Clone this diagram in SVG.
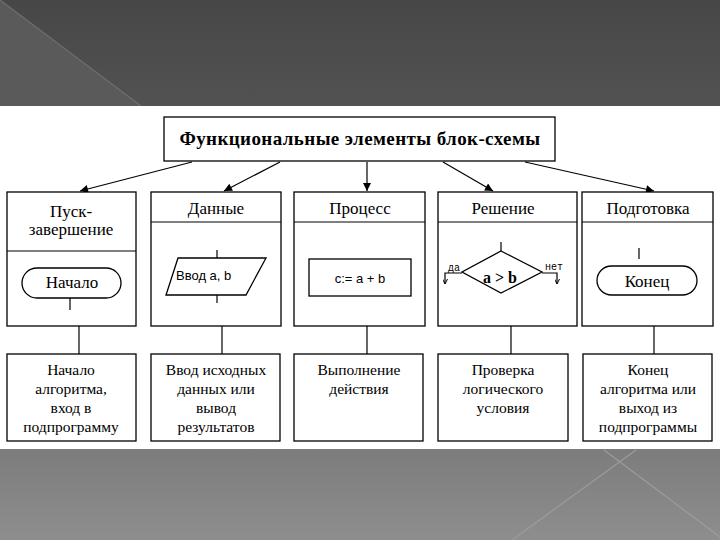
<svg xmlns="http://www.w3.org/2000/svg" width="720" height="540" viewBox="0 0 720 540">
<defs>
<linearGradient id="bot" x1="0" y1="0" x2="0" y2="1">
<stop offset="0" stop-color="#7c7c7c"/>
<stop offset="1" stop-color="#8e8e8e"/>
</linearGradient>
<linearGradient id="top" x1="0" y1="0" x2="0" y2="1">
<stop offset="0" stop-color="#474747"/>
<stop offset="1" stop-color="#525252"/>
</linearGradient>
<marker id="ah" viewBox="0 0 10 10" refX="10" refY="5" markerWidth="10" markerHeight="8" markerUnits="userSpaceOnUse" orient="auto">
<path d="M0,0 L10,5 L0,10 Z" fill="#000"/>
</marker>
<marker id="sa" viewBox="0 0 10 10" refX="10" refY="5" markerWidth="6" markerHeight="5" markerUnits="userSpaceOnUse" orient="auto">
<path d="M0,0 L10,5 L0,10" fill="none" stroke="#000" stroke-width="2"/>
</marker>
</defs>
<style>
.box{fill:#fff;stroke:#000;stroke-width:1.3}
.ln{fill:none;stroke:#000;stroke-width:1.2}
.hd{font-family:"Liberation Serif","Times New Roman",serif;font-size:17px;fill:#000;text-anchor:middle}
.bd{font-family:"Liberation Serif","Times New Roman",serif;font-size:15.5px;fill:#000;text-anchor:middle}
.sn{font-family:"Liberation Sans",Arial,sans-serif;font-size:13px;fill:#000}
.mn{font-family:"Liberation Mono","Courier New",monospace;font-size:10px;fill:#000}
</style>
<rect x="0" y="0" width="720" height="106" fill="url(#top)"/>
<polygon points="0,0 141,106 0,106" fill="#5a5a5a"/>
<line x1="0" y1="0" x2="141" y2="106" stroke="#6e6e6e" stroke-width="1.2"/>
<rect x="0" y="106" width="720" height="343" fill="#fff"/>
<rect x="0" y="449" width="720" height="91" fill="url(#bot)"/>
<line x1="604" y1="450" x2="720" y2="537" stroke="#9c9c9c" stroke-width="1.2"/>
<line x1="636" y1="450" x2="512" y2="540" stroke="#9c9c9c" stroke-width="1.2"/>

<g id="title">
<rect class="box" x="164" y="117" width="391" height="44"/>
<text x="360" y="145" class="hd" style="font-weight:bold;font-size:19px;letter-spacing:0.4px">Функциональные элементы блок-схемы</text>
</g>

<g id="connectors">
<line class="ln" x1="192" y1="162" x2="80" y2="191" marker-end="url(#ah)"/>
<line class="ln" x1="280" y1="162" x2="224" y2="191" marker-end="url(#ah)"/>
<line class="ln" x1="367" y1="162" x2="367" y2="191" marker-end="url(#ah)"/>
<line class="ln" x1="443" y1="162" x2="493" y2="191" marker-end="url(#ah)"/>
<line class="ln" x1="525" y1="162" x2="654" y2="191" marker-end="url(#ah)"/>
<line class="ln" x1="79" y1="326" x2="79" y2="354"/>
<line class="ln" x1="222" y1="326" x2="222" y2="354"/>
<line class="ln" x1="367" y1="326" x2="367" y2="354"/>
<line class="ln" x1="511" y1="326" x2="511" y2="354"/>
<line class="ln" x1="654" y1="326" x2="654" y2="354"/>
</g>

<g id="start-end">
<rect class="box" x="7" y="192" width="129" height="134"/>
<line class="ln" x1="7" y1="251" x2="136" y2="251"/>
<text x="71" y="217" class="hd">Пуск-</text>
<text x="71" y="235" class="hd">завершение</text>
<rect class="box" x="22" y="268" width="99" height="30" rx="15" ry="15"/>
<text x="72" y="288" class="hd">Начало</text>
<line class="ln" x1="70" y1="298" x2="70" y2="310"/>
</g>

<g id="data">
<rect class="box" x="151" y="192" width="130" height="134"/>
<line class="ln" x1="151" y1="222" x2="281" y2="222"/>
<text x="216" y="214" class="hd">Данные</text>
<line class="ln" x1="217" y1="250" x2="217" y2="258"/>
<polygon class="box" points="178,258 266,258 246,295 166,295"/>
<text x="176" y="280" class="sn">Ввод a, b</text>
<line class="ln" x1="217" y1="295" x2="217" y2="303"/>
</g>

<g id="process">
<rect class="box" x="294" y="192" width="131" height="134"/>
<line class="ln" x1="294" y1="222" x2="425" y2="222"/>
<text x="360" y="214" class="hd">Процесс</text>
<rect class="box" x="309" y="259" width="102" height="37"/>
<text x="360" y="283" class="sn" text-anchor="middle">c:= a + b</text>
</g>

<g id="decision">
<rect class="box" x="438" y="192" width="139" height="134"/>
<line class="ln" x1="438" y1="222" x2="577" y2="222"/>
<text x="503" y="214" class="hd">Решение</text>
<line class="ln" x1="501" y1="242" x2="501" y2="251"/>
<polygon class="box" points="501,251 542,272 501,293 462,272"/>
<text x="500" y="283" class="hd" style="font-weight:bold;font-size:16px">a &gt; b</text>
<polyline class="ln" points="462,273 445,273 445,284" marker-end="url(#sa)"/>
<polyline class="ln" points="542,273 557,273 557,284" marker-end="url(#sa)"/>
<text x="448" y="271" class="mn">да</text>
<text x="545" y="270" class="mn">нет</text>
</g>

<g id="preparation">
<rect class="box" x="582" y="192" width="131" height="134"/>
<line class="ln" x1="582" y1="222" x2="713" y2="222"/>
<text x="648" y="214" class="hd">Подготовка</text>
<line class="ln" x1="639" y1="248" x2="639" y2="259"/>
<rect class="box" x="597" y="266" width="100" height="29" rx="14.5" ry="14.5"/>
<text x="647" y="287" class="hd">Конец</text>
</g>

<g id="desc1">
<rect class="box" x="7" y="354" width="129" height="87"/>
<text class="bd" x="71" y="375">Начало</text>
<text class="bd" x="71" y="394">алгоритма,</text>
<text class="bd" x="71" y="413">вход в</text>
<text class="bd" x="71" y="432">подпрограмму</text>
</g>
<g id="desc2">
<rect class="box" x="151" y="354" width="129" height="87"/>
<text class="bd" x="216" y="375">Ввод исходных</text>
<text class="bd" x="216" y="394">данных или</text>
<text class="bd" x="216" y="413">вывод</text>
<text class="bd" x="216" y="432">результатов</text>
</g>
<g id="desc3">
<rect class="box" x="294" y="354" width="129" height="87"/>
<text class="bd" x="359" y="375">Выполнение</text>
<text class="bd" x="359" y="394">действия</text>
</g>
<g id="desc4">
<rect class="box" x="438" y="354" width="130" height="87"/>
<text class="bd" x="503" y="375">Проверка</text>
<text class="bd" x="503" y="394">логического</text>
<text class="bd" x="503" y="413">условия</text>
</g>
<g id="desc5">
<rect class="box" x="583" y="354" width="129" height="87"/>
<text class="bd" x="648" y="375">Конец</text>
<text class="bd" x="648" y="394">алгоритма или</text>
<text class="bd" x="648" y="413">выход из</text>
<text class="bd" x="648" y="432">подпрограммы</text>
</g>
</svg>
